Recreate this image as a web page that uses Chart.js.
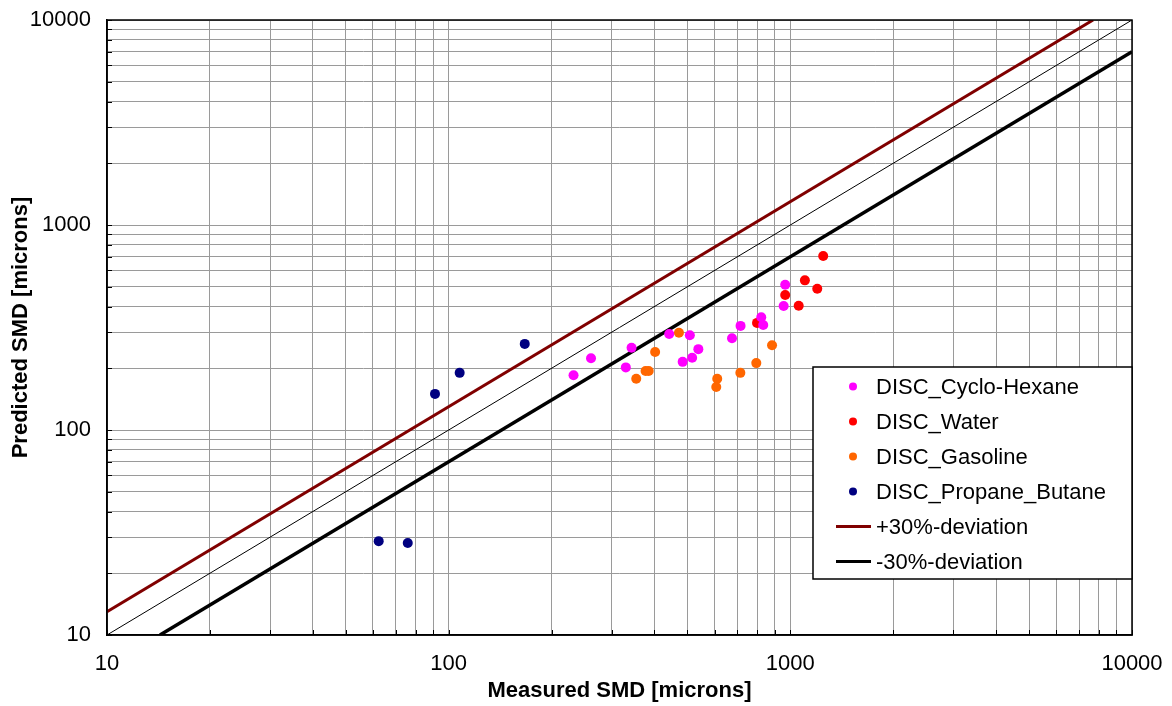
<!DOCTYPE html>
<html>
<head>
<meta charset="utf-8">
<script src="https://cdn.jsdelivr.net/npm/chart.js@4.4.0/dist/chart.umd.min.js"></script>
<style>
  html, body { margin: 0; padding: 0; background: #fff; }
  #wrap { width: 1172px; height: 706px; position: relative; }
</style>
</head>
<body>
<div id="wrap"><canvas id="smdChart"></canvas></div>
<script>
// Measured vs predicted SMD values (microns)
const cycloX = [232, 261, 343, 330, 442, 508, 538, 484, 516, 675, 715, 822, 833, 966, 956];
const cycloY = [185, 224, 252, 202, 294, 290, 248, 215, 225, 280, 322, 355, 325, 511, 403];
const waterX = [1248, 1103, 1199, 966, 1058, 799];
const waterY = [706, 537, 489, 456, 404, 333];
const gasolineX = [472, 402, 377, 385, 354, 611, 607, 714, 795, 884];
const gasolineY = [298, 240, 194, 194, 178, 178, 162, 190, 212, 259];
const propaneX = [62.4, 75.9, 91.2, 107.7, 167];
const propaneY = [28.7, 28.1, 150, 190, 263];

// Deviation lines (end points)
const plus30X = [10, 7692];
const plus30Y = [13, 10000];
const minus30X = [14.29, 10000];
const minus30Y = [10, 7000];
const parityX = [10, 10000];
const parityY = [10, 10000];

// Log axis ticks (gridlines at every 1..9 x decade)
const axisTicks = [
  10, 20, 30, 40, 50, 60, 70, 80, 90,
  100, 200, 300, 400, 500, 600, 700, 800, 900,
  1000, 2000, 3000, 4000, 5000, 6000, 7000, 8000, 9000,
  10000
];
const majorTicks = [10, 100, 1000, 10000];

const FONT = "'Liberation Sans', Arial, sans-serif";

const toPoints = (xs, ys) => xs.map((x, i) => ({ x: x, y: ys[i] }));

const scatterSet = (label, xs, ys, color) => ({
  type: "scatter",
  label,
  data: toPoints(xs, ys),
  backgroundColor: color,
  borderColor: color,
  borderWidth: 0,
  pointRadius: 5,
  pointHoverRadius: 5,
});

const lineSet = (label, xs, ys, color, width) => ({
  type: "line",
  label,
  data: toPoints(xs, ys),
  borderColor: color,
  backgroundColor: color,
  borderWidth: width,
  pointRadius: 0,
  fill: false,
  tension: 0,
});

// Plot frame + inward tick marks
const framePlugin = {
  id: "frame",
  beforeDatasetsDraw(chart) {
    const { ctx, chartArea, scales } = chart;
    ctx.save();
    ctx.strokeStyle = "#000";
    ctx.lineWidth = 1;
    ctx.beginPath();
    axisTicks.forEach((v) => {
      const px = Math.round(scales.x.getPixelForValue(v)) + 0.5;
      ctx.moveTo(px, chartArea.bottom);
      ctx.lineTo(px, chartArea.bottom - 5);
      const py = Math.round(scales.y.getPixelForValue(v)) + 0.5;
      ctx.moveTo(chartArea.left, py);
      ctx.lineTo(chartArea.left + 5, py);
    });
    ctx.stroke();
    ctx.restore();
  },
  afterDatasetsDraw(chart) {
    const { ctx, chartArea } = chart;
    ctx.save();
    ctx.strokeStyle = "#000";
    ctx.lineWidth = 1.5;
    ctx.strokeRect(chartArea.left, chartArea.top,
      chartArea.right - chartArea.left, chartArea.bottom - chartArea.top);
    ctx.restore();
  },
};

// Legend drawn inside the plot, lower right
const boxLegendPlugin = {
  id: "boxLegend",
  afterDraw(chart) {
    const { ctx, chartArea } = chart;
    const w = 319, h = 212;
    const left = chartArea.right - w;
    const top = chartArea.top + 347;
    ctx.save();
    ctx.fillStyle = "#fff";
    ctx.fillRect(left, top, w, h);
    ctx.strokeStyle = "#000";
    ctx.lineWidth = 1.5;
    ctx.strokeRect(left, top, w, h);

    const items = chart.data.datasets.filter((d) => d.showInLegend !== false);
    ctx.font = "22px " + FONT;
    ctx.textBaseline = "middle";
    ctx.textAlign = "left";
    items.forEach((d, i) => {
      const y = top + 19.5 + i * 35;
      if (d.type === "scatter") {
        ctx.fillStyle = d.backgroundColor;
        ctx.beginPath();
        ctx.arc(left + 40, y, 4, 0, Math.PI * 2);
        ctx.fill();
      } else {
        ctx.strokeStyle = d.borderColor;
        ctx.lineWidth = 3;
        ctx.beginPath();
        ctx.moveTo(left + 23, y);
        ctx.lineTo(left + 58, y);
        ctx.stroke();
      }
      ctx.fillStyle = "#000";
      ctx.fillText(d.label, left + 63, y + 1);
    });
    ctx.restore();
  },
};

const logAxis = (title, isY) => ({
  type: "logarithmic",
  min: 10,
  max: 10000,
  afterBuildTicks(scale) {
    scale.ticks = axisTicks.map((v) => ({ value: v, major: majorTicks.includes(v) }));
  },
  afterFit(scale) {
    if (isY) scale.width = 107;
    else scale.height = 71;
    // keep the plot area fixed, labels may overhang the edges
    scale.paddingTop = 0;
    scale.paddingBottom = 0;
    scale.paddingLeft = 0;
    scale.paddingRight = 0;
  },
  ticks: {
    autoSkip: false,
    maxRotation: 0,
    minRotation: 0,
    padding: 16,
    color: "#000",
    font: { family: FONT, size: 22 },
    callback: (v) => (majorTicks.includes(v) ? String(v) : ""),
  },
  grid: {
    color: "#9a9a9a",
    lineWidth: 1,
    drawTicks: false,
  },
  border: { display: true, color: "#000", width: 1.5 },
  title: {
    display: true,
    text: title,
    color: "#000",
    font: { family: FONT, size: 22, weight: "bold" },
    padding: isY ? { top: 8, bottom: 0 } : { top: 0, bottom: 2 },
  },
});

const ctx = document.getElementById("smdChart").getContext("2d");

new Chart(ctx, {
  data: {
    datasets: [
      scatterSet("DISC_Cyclo-Hexane", cycloX, cycloY, "#FF00FF"),
      scatterSet("DISC_Water", waterX, waterY, "#FF0000"),
      scatterSet("DISC_Gasoline", gasolineX, gasolineY, "#FF6600"),
      scatterSet("DISC_Propane_Butane", propaneX, propaneY, "#000080"),
      lineSet("+30%-deviation", plus30X, plus30Y, "#800000", 3),
      lineSet("-30%-deviation", minus30X, minus30Y, "#000000", 3.5),
      Object.assign(lineSet("parity", parityX, parityY, "#000000", 1), { showInLegend: false }),
    ],
  },
  options: {
    responsive: true,
    maintainAspectRatio: false,
    animation: false,
    layout: { padding: { left: 0, top: 20, right: 40, bottom: 0 } },
    plugins: {
      legend: { display: false },
      tooltip: { enabled: false },
    },
    scales: {
      x: logAxis("Measured SMD [microns]", false),
      y: logAxis("Predicted SMD [microns]", true),
    },
  },
  plugins: [framePlugin, boxLegendPlugin],
});
</script>
</body>
</html>
